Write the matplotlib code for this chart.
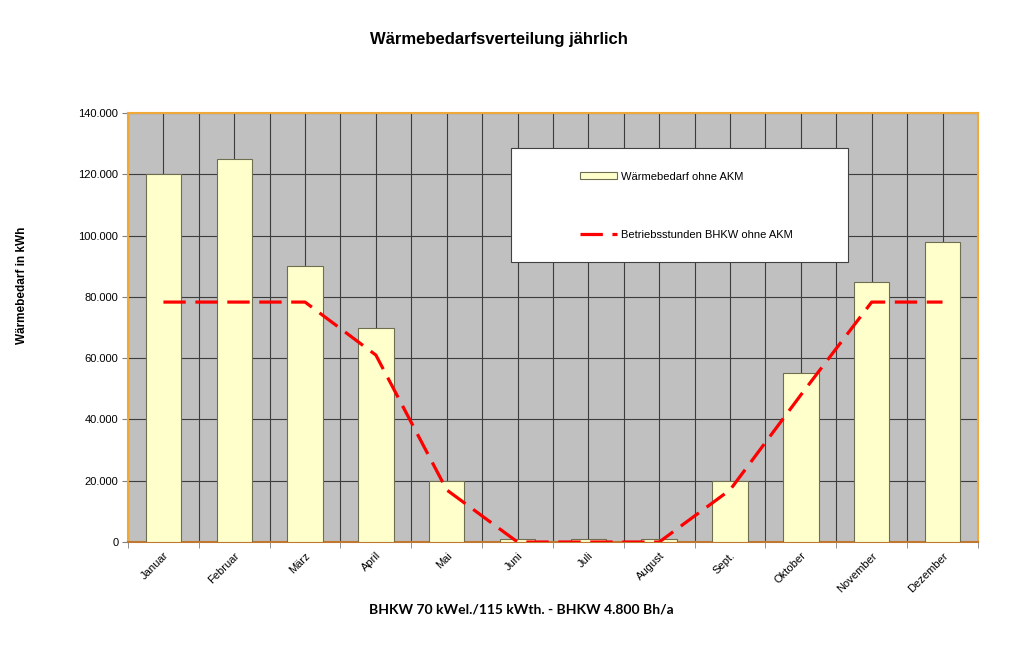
import numpy as np
import matplotlib
matplotlib.use("Agg")
import matplotlib.pyplot as plt
from matplotlib.patches import Rectangle

# data
months = ["Januar", "Februar", "März", "April", "Mai", "Juni", "Juli",
          "August", "Sept.", "Oktober", "November", "Dezember"]
waermebedarf = [120000, 125000, 90000, 70000, 20000, 1000, 1000, 1000,
                20000, 55000, 85000, 98000]
betriebsstunden = [78300, 78300, 78300, 61000, 17000, 0, 0, 0,
                   17000, 48000, 78300, 78300]

plt.rcParams["font.family"] = ["Liberation Sans", "DejaVu Sans"]

fig = plt.figure(figsize=(10.24, 6.57), dpi=100)
ax = fig.add_axes([0.125, 0.175, 0.830, 0.653])
ax.set_facecolor("#C0C0C0")

x = np.arange(len(months))
bars = ax.bar(x, waermebedarf, width=0.5, color="#FFFFCC", edgecolor="#6E6E50",
              linewidth=0.8, zorder=3, label="Wärmebedarf ohne AKM")

line, = ax.plot(x, betriebsstunden, color="#FF0000", linewidth=2.3,
                dashes=(7, 3), zorder=4, solid_joinstyle="round",
                dash_joinstyle="round", label="Betriebsstunden BHKW ohne AKM")

ax.set_xlim(-0.5, len(months) - 0.5)
ax.set_ylim(0, 140000)
ax.set_yticks(np.arange(0, 140001, 20000))
ax.set_yticklabels([f"{v:,}".replace(",", ".") for v in range(0, 140001, 20000)],
                   fontsize=8)
ax.set_xticks(x)
ax.set_xticklabels(months, rotation=45, ha="right", rotation_mode="anchor",
                   fontsize=8)
ax.set_xticks(np.arange(-0.5, len(months), 1.0), minor=True)
ax.tick_params(axis="x", which="major", length=0, pad=6)
ax.tick_params(axis="x", which="minor", length=4, color="#808080")
ax.tick_params(axis="y", length=4, color="#808080", pad=3)

for v in np.arange(-0.5, len(months), 0.5):
    ax.axvline(v, color="#3C3C3C", linewidth=0.8, zorder=1)
ax.grid(axis="y", color="#3C3C3C", linewidth=0.8, zorder=1)
ax.set_axisbelow(True)

for s in ["left", "right", "top"]:
    ax.spines[s].set_color("#F0A838")
    ax.spines[s].set_linewidth(1.5)
ax.spines["bottom"].set_color("#C07830")
ax.spines["bottom"].set_linewidth(1.5)

fig.text(22 / 1024, 0.566, "Wärmebedarf in kWh", fontsize=8.5,
         fontweight="bold", rotation=90, ha="center", va="center")
fig.text(521 / 1024, 1 - 609 / 657, "BHKW 70 kWel./115 kWth. - BHKW 4.800 Bh/a",
         fontsize=10, fontweight="bold", family=["Lato", "DejaVu Sans"],
         ha="center", va="center")
fig.text(0.487, 0.94, "Wärmebedarfsverteilung jährlich", fontsize=12,
         fontweight="bold", ha="center", va="center")

# legend box
ax.add_patch(Rectangle((0.4506, 0.653), 0.396, 0.265, transform=ax.transAxes,
                       facecolor="white", edgecolor="#404040", linewidth=0.8,
                       zorder=5))
leg = ax.legend([bars, line], ["Wärmebedarf ohne AKM", "Betriebsstunden BHKW ohne AKM"],
                loc="upper left", bbox_to_anchor=(0.532, 0.863), frameon=False,
                fontsize=8, borderpad=0, borderaxespad=0, handlelength=3.3,
                handleheight=0.6, handletextpad=0.4, labelspacing=4.3)
leg.set_zorder(6)

fig.savefig("out.png", dpi=100)
